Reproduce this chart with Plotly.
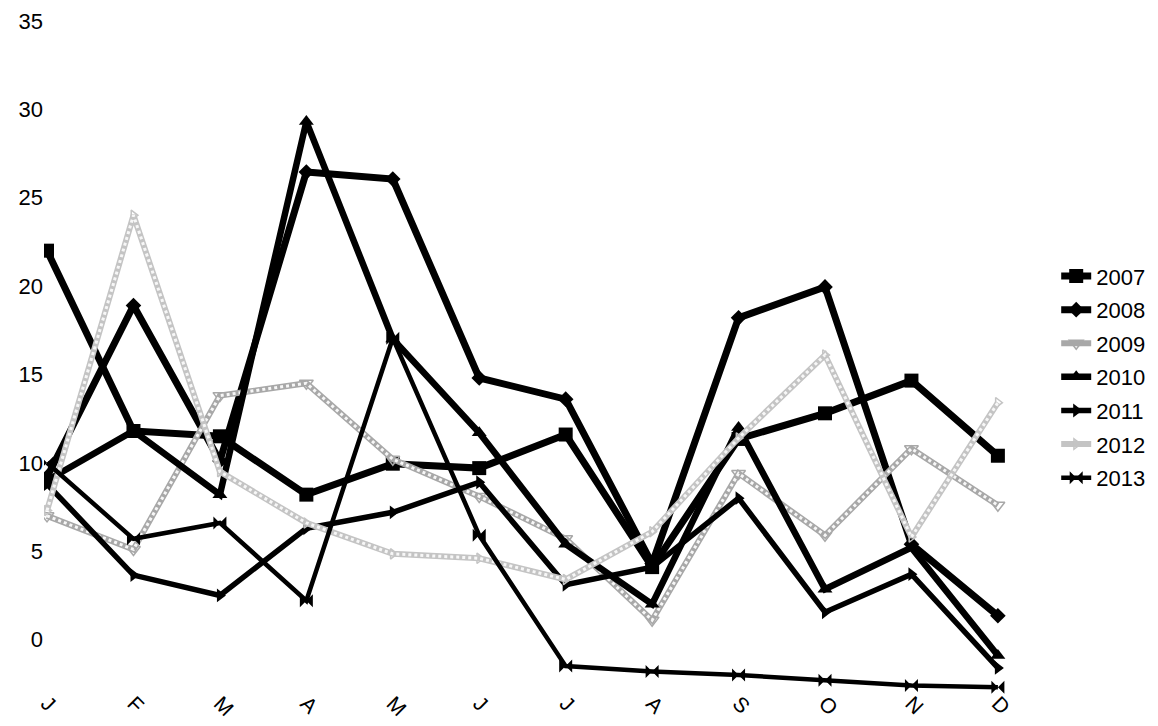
import plotly.graph_objects as go

months = ["J", "F", "M", "A", "M", "J", "J", "A", "S", "O", "N", "D"]
y2007 = [22.0, 11.8, 11.5, 8.2, 9.95, 9.7, 11.6, 4.1, 11.35, 12.8, 14.65, 10.4]
y2008 = [9.2, 18.9, 10.1, 26.45, 26.05, 14.8, 13.6, 4.3, 18.2, 19.95, 5.4, 1.35]
y2009 = [7.0, 5.1, 13.8, 14.5, 10.2, 8.1, 5.7, 1.1, 9.4, 5.9, 10.8, 7.6]
y2010 = [9.0, 11.8, 8.2, 29.3, 17.0, 11.7, 5.4, 2.0, 12.0, 2.85, 5.2, -0.9]
y2011 = [8.8, 3.65, 2.5, 6.3, 7.2, 8.9, 3.1, 4.1, 8.0, 1.55, 3.7, -1.6]
y2012 = [7.3, 24.0, 9.5, 6.6, 4.85, 4.6, 3.4, 6.1, 11.4, 16.1, 5.8, 13.4]
y2013 = [10.0, 5.7, 6.6, 2.2, 17.05, 5.9, -1.5, -1.8, -2.0, -2.3, -2.6, -2.7]
y_ticks = [0, 5, 10, 15, 20, 25, 30, 35]

x = list(range(len(months)))
FONT = "Liberation Sans, Arial, sans-serif"

fig = go.Figure()


def black(name, ys, symbol, msize, width):
    fig.add_trace(go.Scatter(
        x=x, y=ys, name=name, mode="lines+markers",
        line=dict(color="black", width=width),
        marker=dict(symbol=symbol, size=msize, color="black"),
        legendgroup=name,
    ))


def gray(name, ys, symbol, msize, edge):
    fig.add_trace(go.Scatter(
        x=x, y=ys, name=name, mode="lines+markers",
        line=dict(color=edge, width=6),
        marker=dict(symbol=symbol, size=msize, color=edge,
                    line=dict(color=edge, width=1.5)),
        legendgroup=name,
    ))
    fig.add_trace(go.Scatter(
        x=x, y=ys, name=name, mode="lines", showlegend=False,
        line=dict(color="#f7f7f7", width=3, dash="dot"), hoverinfo="skip",
        legendgroup=name,
    ))


black("2007", y2007, "square", 14, 7)
black("2008", y2008, "diamond", 12, 7)
gray("2009", y2009, "triangle-down-open", 12, "#a8a8a8")
black("2010", y2010, "triangle-up", 13, 6.5)
black("2011", y2011, "triangle-right", 12, 5.5)
gray("2012", y2012, "triangle-right-open", 9, "#c4c4c4")
black("2013", y2013, "bowtie", 13, 4.5)

fig.update_layout(
    width=1150, height=718,
    margin=dict(l=36, r=150, t=1, b=30),
    paper_bgcolor="white", plot_bgcolor="white",
    font=dict(family=FONT, color="black", size=22),
    showlegend=True,
    legend=dict(x=1.05, y=0.466, xanchor="left", yanchor="middle",
                font=dict(size=22, family=FONT, color="black"),
                bgcolor="rgba(0,0,0,0)", itemwidth=30, tracegroupgap=2),
    xaxis=dict(range=[-0.035, 11.117], tickmode="array", tickvals=x,
               ticktext=months, tickangle=45, showgrid=False,
               zeroline=False, showline=False, ticks="",
               ticklabelstandoff=-10, ticklabeloverflow="allow",
               tickfont=dict(size=21, family=FONT)),
    yaxis=dict(range=[-3.19, 35.5], tickmode="array", tickvals=y_ticks,
               showgrid=False, zeroline=False, showline=False, ticks="",
               ticklabeloverflow="allow",
               tickfont=dict(size=22, family=FONT)),
)

fig.write_html("out.html")
